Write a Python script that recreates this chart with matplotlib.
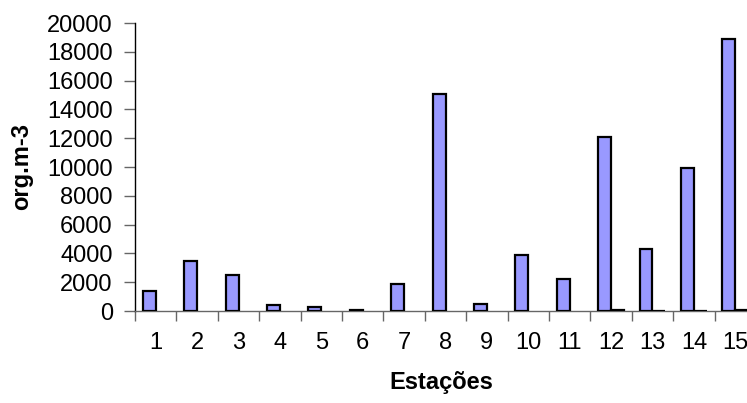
import matplotlib
matplotlib.use("Agg")
import matplotlib.pyplot as plt
import numpy as np

plt.rcParams['font.family'] = ['Liberation Sans', 'DejaVu Sans']

categories = [str(i) for i in range(1, 16)]
series1 = [1400, 3500, 2500, 450, 250, 80, 1900, 15100, 500, 3900, 2200, 12100, 4300, 9900, 18900]
series2 = [0, 0, 0, 0, 0, 0, 0, 0, 0, 0, 0, 40, 30, 30, 40]
yticks = list(range(0, 20001, 2000))

fig = plt.figure(figsize=(7.47, 4.03), dpi=100)
ax = fig.add_axes([135/747, 92/403, 621/747, 288/403])

x = np.arange(1, 16)
w = 0.314
ax.bar(x - w/2, series1, width=w, color='#9999FF', edgecolor='black', linewidth=1.6, zorder=3)
s2 = np.array(series2, dtype=float)
m = s2 > 0
ax.bar(x[m] + w/2, s2[m], width=w, color='#993366', edgecolor='black', linewidth=1.6, zorder=3)

ax.set_xlim(0.5, 15.5)
ax.set_ylim(0, 20000)
ax.set_yticks(yticks)
ax.set_yticklabels([str(v) for v in yticks])
ax.set_xticks(x)
ax.set_xticklabels(categories)
ax.set_xticks(np.arange(0.5, 16, 1), minor=True)
ax.tick_params(axis='x', which='major', length=0, pad=15, labelsize=17)
ax.tick_params(axis='x', which='minor', length=7, width=1, color='#666666')
ax.tick_params(axis='y', length=8, width=1, color='#666666', pad=8, labelsize=17)

for s in ['top', 'right']:
    ax.spines[s].set_visible(False)
ax.spines['left'].set_color('black')
ax.spines['left'].set_linewidth(1)
ax.spines['bottom'].set_color('#666666')
ax.spines['bottom'].set_linewidth(1)

ax.set_ylabel('org.m-3', fontsize=17, fontweight='bold')
ax.yaxis.set_label_coords(-(135 - 22) / 621, 0.5)
ax.yaxis.label.set_va('center')
ax.set_xlabel('Estações', fontsize=17, fontweight='bold')
ax.xaxis.set_label_coords((441 - 135) / 621, -(383 - 311) / 288)
ax.xaxis.label.set_va('center')

fig.savefig('out.png', dpi=100)
